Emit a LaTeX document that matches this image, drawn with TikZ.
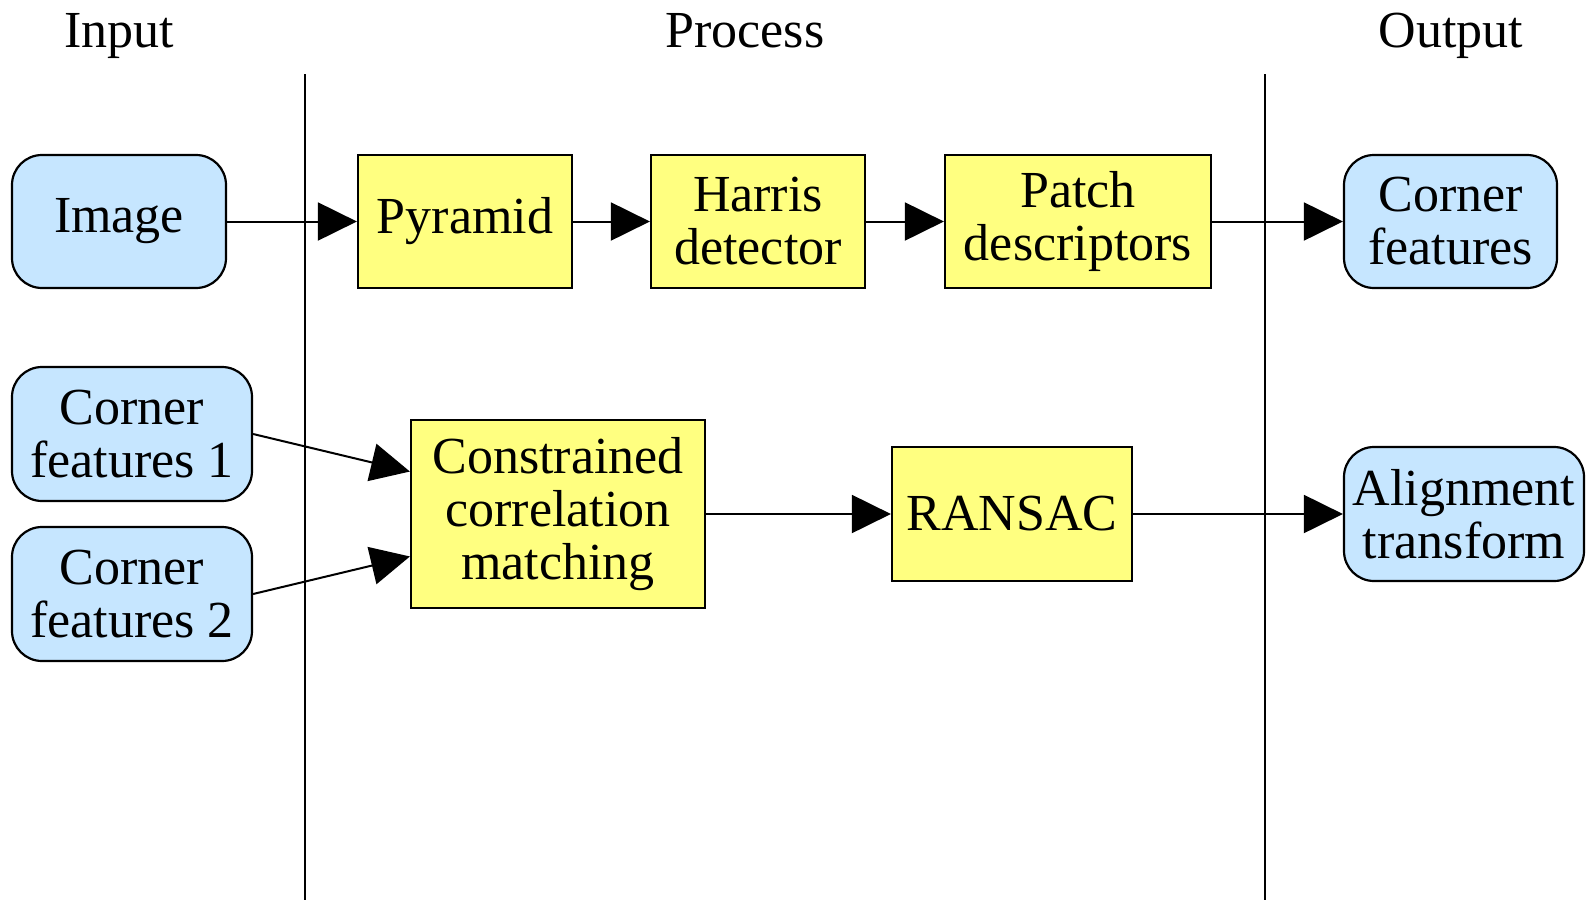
\documentclass[tikz,border=0pt]{standalone}
\usepackage{fontspec}
\setmainfont{Liberation Serif}
\usetikzlibrary{arrows.meta}
\definecolor{inblue}{HTML}{C6E6FF}
\definecolor{procyellow}{HTML}{FFFF80}

\begin{document}
\begin{tikzpicture}[x=0.5pt, y=-0.5pt, line width=1pt, >={Triangle[length=19.5pt, width=19pt]}]
    \tikzstyle{every node} = [font=\fontsize{26}{26.5}\selectfont, align=center, inner sep=0pt]
    \tikzstyle{data} = [draw, line width=1.1pt, rounded corners=15pt, fill=inblue, minimum height=66.5pt]
    \tikzstyle{proc} = [draw, line width=1.1pt, fill=procyellow, minimum height=66.5pt]
    \tikzstyle{title} = [anchor=base]

    \useasboundingbox (0,0) rectangle (1596,900);

    \node (tin) at (119, 47) [title] {Input};
    \node (tproc) at (745, 47) [title] {Process};
    \node (tout) at (1451, 47) [title] {Output};

    \coordinate (s1top) at (305, 74);
    \coordinate (s1bot) at (305, 900);
    \coordinate (s2top) at (1265, 74);
    \coordinate (s2bot) at (1265, 900);
    \draw (s1top) -- (s1bot);
    \draw (s2top) -- (s2bot);

    \node (img) at (119, 221.5) [data, minimum width=107pt] {Image};
    \node (pyr) at (465, 221.5) [proc, minimum width=107pt] {Pyramid};
    \node (har) at (758, 221.5) [proc, minimum width=107pt] {Harris \\ detector};
    \node (pat) at (1078, 221.5) [proc, minimum width=133pt] {Patch \\ descriptors};
    \node (cfo) at (1450.5, 221.5) [data, minimum width=106.5pt] {Corner \\ features};

    \node (cf1) at (132, 434) [data, minimum width=120pt, minimum height=67pt] {Corner \\ features 1};
    \node (cf2) at (132, 594) [data, minimum width=120pt, minimum height=67pt] {Corner \\ features 2};

    \node (ccm) at (558, 514) [proc, minimum width=147pt, minimum height=94pt] {Constrained \\ correlation \\ matching};
    \node (ran) at (1012, 514) [proc, minimum width=120pt, minimum height=67pt] {RANSAC};
    \node (ali) at (1464, 514) [data, minimum width=120pt, minimum height=67pt] {Alignment \\ transform};

    \draw [->] (img) -- (pyr);
    \draw [->] (pyr) -- (har);
    \draw [->] (har) -- (pat);
    \draw [->] (pat) -- (cfo);
    \draw [->] (cf1.east) -- (ccm.164);
    \draw [->] (cf2.east) -- (ccm.196);
    \draw [->] (ccm) -- (ran);
    \draw [->] (ran) -- (ali);
\end{tikzpicture}
\end{document}
